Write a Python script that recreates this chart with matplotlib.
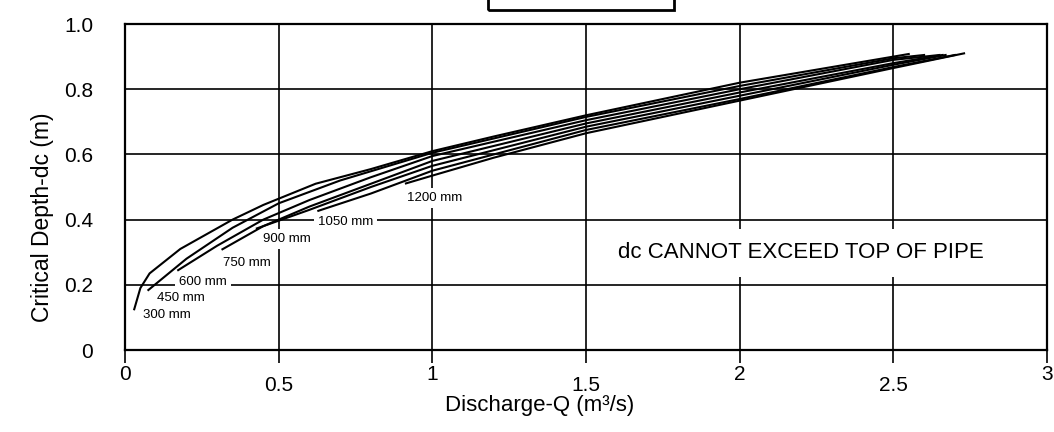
import numpy as np
import matplotlib.pyplot as plt
from matplotlib.patches import Rectangle

plt.rcParams['font.family'] = ['Liberation Sans', 'DejaVu Sans']

# critical depth curves, one per pipe diameter (Q in m3/s, dc in m)
q_300 = [0.03, 0.05, 0.08, 0.18, 0.35, 0.45, 0.62, 0.80, 1.00, 1.20, 1.50, 2.00, 2.50, 2.55]
dc_300 = [0.125, 0.19, 0.235, 0.31, 0.40, 0.445, 0.51, 0.555, 0.61, 0.655, 0.72, 0.82, 0.90, 0.908]

q_450 = [0.076, 0.20, 0.35, 0.50, 0.70, 1.00, 1.50, 2.00, 2.50, 2.60]
dc_450 = [0.184, 0.28, 0.375, 0.45, 0.52, 0.605, 0.715, 0.81, 0.895, 0.905]

q_600 = [0.173, 0.30, 0.45, 0.60, 0.80, 1.00, 1.50, 2.00, 2.50, 2.65]
dc_600 = [0.245, 0.32, 0.40, 0.46, 0.53, 0.595, 0.705, 0.80, 0.89, 0.905]

q_750 = [0.317, 0.45, 0.60, 0.80, 1.00, 1.50, 2.00, 2.50, 2.66]
dc_750 = [0.309, 0.38, 0.44, 0.51, 0.58, 0.695, 0.79, 0.88, 0.905]

q_900 = [0.429, 0.60, 0.80, 1.00, 1.50, 2.00, 2.50, 2.67]
dc_900 = [0.373, 0.43, 0.50, 0.565, 0.685, 0.78, 0.875, 0.905]

q_1050 = [0.629, 0.80, 1.00, 1.20, 1.50, 2.00, 2.50, 2.70]
dc_1050 = [0.427, 0.48, 0.55, 0.60, 0.675, 0.77, 0.868, 0.905]

q_1200 = [0.914, 1.00, 1.20, 1.50, 2.00, 2.50, 2.73]
dc_1200 = [0.511, 0.535, 0.59, 0.665, 0.765, 0.865, 0.91]

curves = [(q_300, dc_300), (q_450, dc_450), (q_600, dc_600), (q_750, dc_750),
          (q_900, dc_900), (q_1050, dc_1050), (q_1200, dc_1200)]

pipe_labels = ['300 mm', '450 mm', '600 mm', '750 mm', '900 mm', '1050 mm', '1200 mm']
# where each diameter label sits (left edge, vertical centre)
label_q = [0.059, 0.104, 0.176, 0.319, 0.449, 0.628, 0.918]
label_dc = [0.107, 0.161, 0.209, 0.267, 0.340, 0.393, 0.466]

fig = plt.figure(figsize=(10.54, 4.32), dpi=100)
ax = fig.add_axes([0.1186, 0.1898, 0.8748, 0.7546])

ax.set_xlim(0, 3)
ax.set_ylim(0, 1.0)

# integers on one row, halves on a lower row
ax.set_xticks([0, 1, 2, 3])
ax.set_xticklabels(['0', '1', '2', '3'])
ax.set_xticks([0.5, 1.5, 2.5], minor=True)
ax.set_xticklabels(['0.5', '1.5', '2.5'], minor=True)
ax.tick_params(axis='x', which='major', direction='out', length=9, width=1.2, pad=2, labelsize=15)
ax.tick_params(axis='x', which='minor', direction='out', length=9, width=1.2, pad=10, labelsize=15)

ax.set_yticks([0, 0.2, 0.4, 0.6, 0.8, 1.0])
ax.set_yticklabels(['0', '0.2', '0.4', '0.6', '0.8', '1.0'])
ax.tick_params(axis='y', length=0, pad=23, labelsize=15)

ax.grid(True, which='both', axis='x', color='black', lw=1.2, zorder=1)
ax.grid(True, which='major', axis='y', color='black', lw=1.2, zorder=1)
ax.set_axisbelow(True)

for s in ax.spines.values():
    s.set_linewidth(1.6)

for q, dc in curves:
    ax.plot(q, dc, color='black', lw=1.5, zorder=3)

# small white patch behind each label breaks the grid line it sits on
for txt, x, y in zip(pipe_labels, label_q, label_dc):
    ax.text(x, y, txt, fontsize=9.5, ha='left', va='center', zorder=2,
            bbox=dict(boxstyle='square,pad=0.3', fc='white', ec='none'))

ax.text(2.2, 0.298, 'dc CANNOT EXCEED TOP OF PIPE', fontsize=16, ha='center', va='center',
        zorder=2, bbox=dict(boxstyle='square,pad=0.6', fc='white', ec='none'))

ax.set_xlabel('Discharge-Q (m³/s)', fontsize=16)
ax.xaxis.set_label_coords(0.45, -0.169)
ax.xaxis.label.set_va('center')
ax.set_ylabel('Critical Depth-dc (m)', fontsize=16.5)
ax.yaxis.set_label_coords(-0.09, 0.408)
ax.yaxis.label.set_va('center')

# empty title box clipped by the top edge
fig.patches.append(Rectangle((0.463, 0.978), 0.176, 0.1, transform=fig.transFigure,
                             fill=False, ec='black', lw=2, figure=fig))

fig.savefig('out.png', dpi=100)
